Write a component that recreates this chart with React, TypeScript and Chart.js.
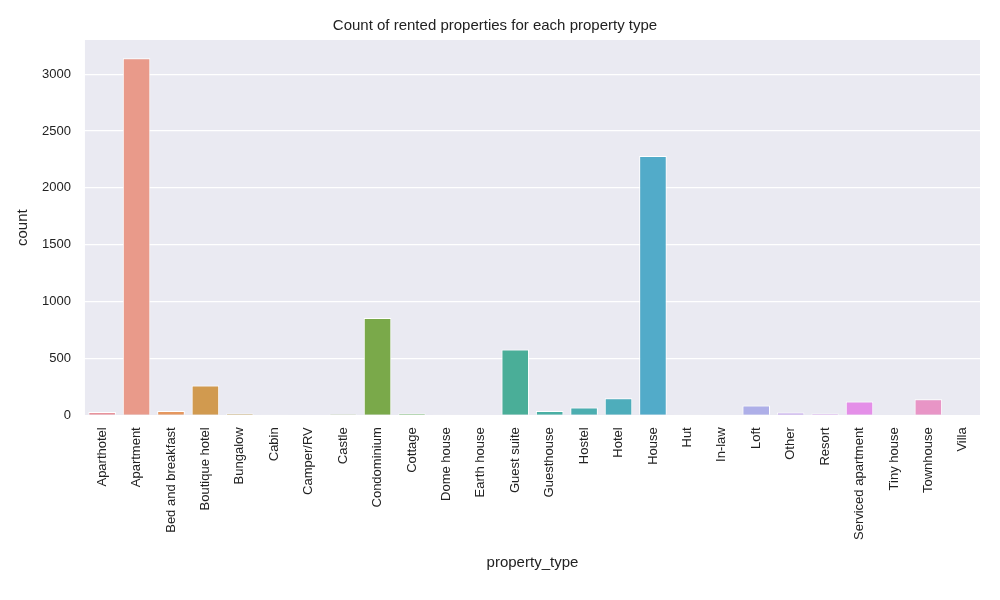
import React, { useEffect, useRef } from 'react';
import { Chart, registerables } from 'chart.js';

Chart.register(...registerables);

const propertyTypes = [
  'Aparthotel', 'Apartment', 'Bed and breakfast', 'Boutique hotel', 'Bungalow', 'Cabin',
  'Camper/RV', 'Castle', 'Condominium', 'Cottage', 'Dome house', 'Earth house',
  'Guest suite', 'Guesthouse', 'Hostel', 'Hotel', 'House', 'Hut', 'In-law', 'Loft',
  'Other', 'Resort', 'Serviced apartment', 'Tiny house', 'Townhouse', 'Villa',
];

const counts = [
  28, 3140, 38, 262, 15, 3, 5, 8, 855, 15, 3, 5,
  578, 38, 68, 150, 2280, 3, 5, 85, 25, 15, 122, 5, 140, 5,
];

const barColors = [
  '#e8939b', '#e99a8a', '#e5975f', '#d19a4f', '#c1a04d', '#b0a64c',
  '#9dac4c', '#86b24c', '#7aa94a', '#5fb24f', '#4fb36f', '#4bb28a',
  '#4aae98', '#4aafa4', '#4caeb0', '#4eadbb', '#52abc9', '#5aa8d8',
  '#7aa8e6', '#aeafe8', '#c4a6ec', '#d69eec', '#e48fe8', '#e88fd8',
  '#e895c6', '#e898b4',
];

const yTicks = [0, 500, 1000, 1500, 2000, 2500, 3000];

const FONT = "'Liberation Sans', Arial, sans-serif";

const plotBg = {
  id: 'plotBg',
  beforeDraw(chart: any) {
    const { ctx, chartArea } = chart;
    ctx.save();
    ctx.fillStyle = '#eaeaf2';
    ctx.fillRect(chartArea.left, chartArea.top, chartArea.right - chartArea.left, chartArea.bottom - chartArea.top);
    ctx.restore();
  },
};

const App: React.FC = () => {
  const canvasRef = useRef<HTMLCanvasElement>(null);

  useEffect(() => {
    document.body.style.margin = '0';
    if (!canvasRef.current) return;
    const chart = new Chart(canvasRef.current, {
      type: 'bar',
      data: {
        labels: propertyTypes,
        datasets: [{
          data: counts,
          backgroundColor: barColors,
          borderColor: '#ffffff',
          borderWidth: 1,
          categoryPercentage: 0.8,
          barPercentage: 1,
        }],
      },
      options: {
        animation: false,
        responsive: false,
        layout: { padding: { left: 10, right: 20, top: 11, bottom: 24 } },
        plugins: {
          legend: { display: false },
          tooltip: { enabled: false },
          title: {
            display: true,
            text: 'Count of rented properties for each property type',
            color: '#222',
            font: { family: FONT, size: 15, weight: 'normal' },
            padding: { top: 6, bottom: 5 },
          },
        },
        scales: {
          x: {
            grid: { display: false },
            border: { display: false },
            ticks: { color: '#222', font: { family: FONT, size: 13 }, maxRotation: 90, minRotation: 90, padding: 4 },
            title: { display: true, text: 'property_type', color: '#222', font: { family: FONT, size: 15 }, padding: { top: 10 } },
          },
          y: {
            min: 0,
            max: 3300,
            afterBuildTicks: (axis: any) => { axis.ticks = yTicks.map(v => ({ value: v })); },
            grid: { color: '#ffffff', lineWidth: 1.2 },
            border: { display: false },
            ticks: { color: '#222', font: { family: FONT, size: 13 }, padding: 6, callback: (v: any) => String(v) },
            title: { display: true, text: 'count', color: '#222', font: { family: FONT, size: 15 } },
          },
        },
      },
      plugins: [plotBg],
    });
    return () => chart.destroy();
  }, []);

  return <canvas ref={canvasRef} width={1000} height={600} style={{ display: 'block' }} />;
};

export default App;
